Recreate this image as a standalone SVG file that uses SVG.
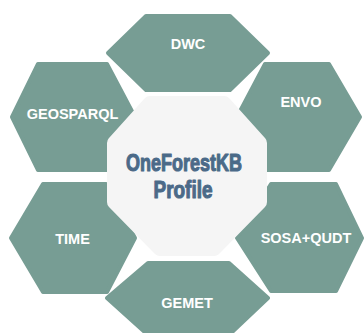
<svg xmlns="http://www.w3.org/2000/svg" width="364" height="333" viewBox="0 0 364 333">
<style>
.hex{fill:#779d94;stroke:#779d94;stroke-width:4;stroke-linejoin:round}
.lbl{font-family:"Liberation Sans",Arial,sans-serif;font-weight:bold;font-size:14.5px;fill:#ffffff;text-anchor:middle}
.core{fill:#f5f5f5;stroke:#f5f5f5;stroke-width:14;stroke-linejoin:round}
.title{font-family:"Liberation Sans",Arial,sans-serif;font-weight:bold;font-size:24px;fill:#4b6a88;stroke:#4b6a88;stroke-width:1.1;stroke-linejoin:round;text-anchor:middle}
</style>
<rect width="364" height="333" fill="#ffffff"/>
<g id="connectors"></g>
<g id="dwc">
<polygon class="hex" points="146,16 230,16 268,53 230,90 146,90 108,53"/>
<text class="lbl" x="188" y="49">DWC</text>
</g>
<g id="geosparql">
<polygon class="hex" points="38,64 107,64 135,117 107,170 38,170 12,117"/>
<text class="lbl" x="72.5" y="119">GEOSPARQL</text>
</g>
<g id="envo">
<polygon class="hex" points="265,64 329,64 360,117 329,170 265,170 237,117"/>
<text class="lbl" x="301" y="107">ENVO</text>
</g>
<g id="time">
<polygon class="hex" points="43,184 106,184 135,238 107,292 43,292 11,238"/>
<text class="lbl" x="72.5" y="244">TIME</text>
</g>
<g id="sosaqudt">
<polygon class="hex" points="271,184 336,184 362,238 336,291 271,291 237,238"/>
<text class="lbl" x="306" y="243">SOSA+QUDT</text>
</g>
<g id="gemet">
<polygon class="hex" points="148,263 229,263 268,298 229,335 148,335 107,298"/>
<text class="lbl" x="187" y="308">GEMET</text>
</g>
<g id="core">
<polygon class="core" points="150,103 224,103 260,143 260,202 214,249 160,249 114,202 114,143"/>
<text class="title" x="184" y="171" textLength="116" lengthAdjust="spacingAndGlyphs">OneForestKB</text>
<text class="title" x="183" y="198" textLength="59" lengthAdjust="spacingAndGlyphs">Profile</text>
</g>
</svg>
